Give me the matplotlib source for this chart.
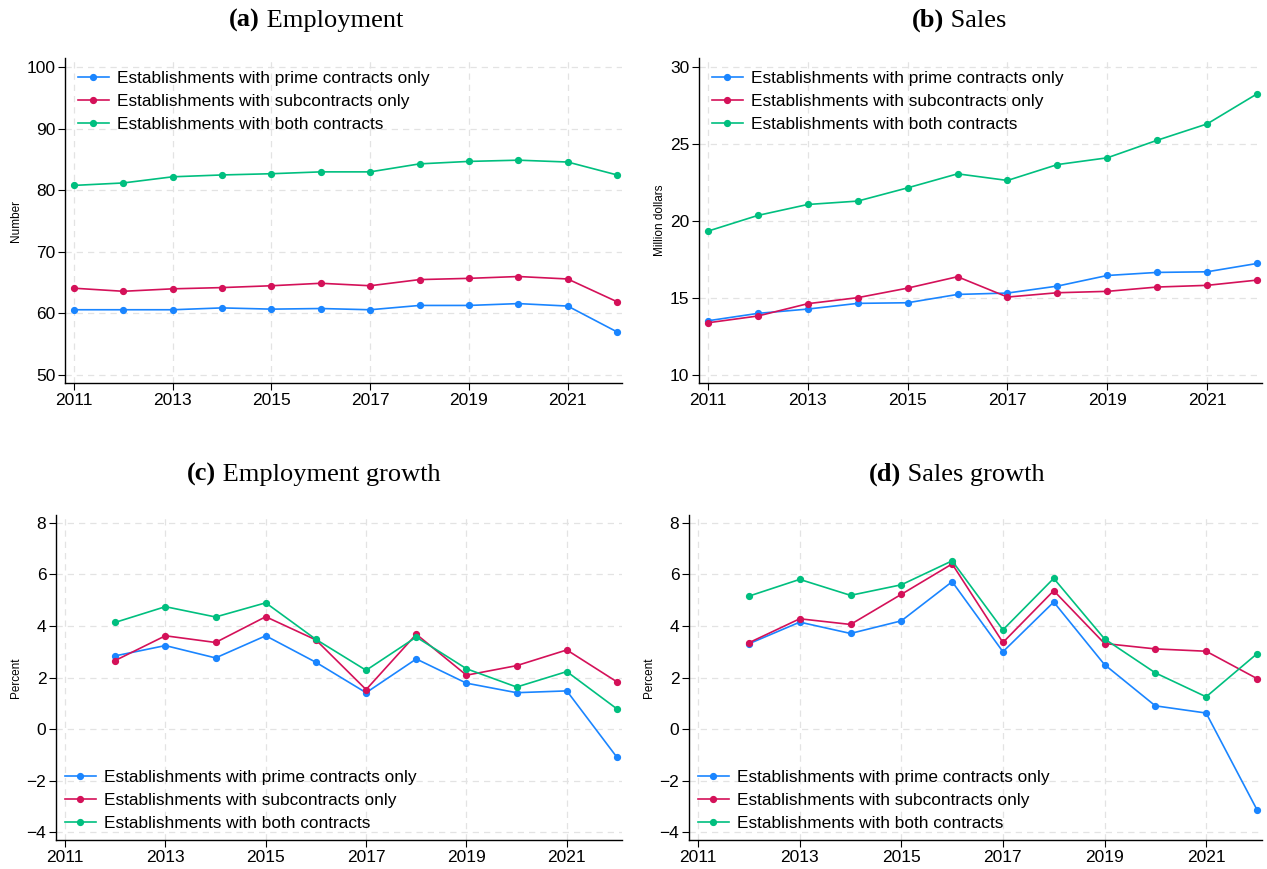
import matplotlib
matplotlib.use("Agg")
import matplotlib.pyplot as plt

plt.rcParams['font.family'] = ['Liberation Sans', 'DejaVu Sans']

years = list(range(2011, 2023))
growth_years = years[1:]

series_labels = ["Establishments with prime contracts only",
                 "Establishments with subcontracts only",
                 "Establishments with both contracts"]
colors = ["#1a85ff", "#d41159", "#00bf7f"]

# Employment (number of workers)
emp_prime = [60.6, 60.6, 60.6, 60.9, 60.7, 60.8, 60.6, 61.3, 61.3, 61.6, 61.2, 57.0]
emp_sub = [64.1, 63.6, 64.0, 64.2, 64.5, 64.9, 64.5, 65.5, 65.7, 66.0, 65.6, 61.9]
emp_both = [80.8, 81.2, 82.2, 82.5, 82.7, 83.0, 83.0, 84.3, 84.7, 84.9, 84.6, 82.5]

# Sales (million dollars)
sales_prime = [13.52, 14.00, 14.28, 14.65, 14.69, 15.23, 15.32, 15.77, 16.46, 16.66, 16.70, 17.24]
sales_sub = [13.39, 13.83, 14.63, 15.02, 15.64, 16.38, 15.06, 15.34, 15.43, 15.71, 15.82, 16.16]
sales_both = [19.34, 20.36, 21.07, 21.29, 22.15, 23.06, 22.63, 23.66, 24.10, 25.24, 26.30, 28.25]

# Employment growth (percent)
empg_prime = [2.84, 3.24, 2.76, 3.62, 2.59, 1.41, 2.72, 1.78, 1.41, 1.48, -1.10]
empg_sub = [2.66, 3.62, 3.36, 4.36, 3.46, 1.53, 3.68, 2.09, 2.46, 3.07, 1.83]
empg_both = [4.14, 4.75, 4.35, 4.90, 3.48, 2.28, 3.57, 2.34, 1.63, 2.23, 0.78]

# Sales growth (percent)
salesg_prime = [3.31, 4.15, 3.71, 4.20, 5.72, 3.00, 4.93, 2.50, 0.90, 0.62, -3.13]
salesg_sub = [3.35, 4.28, 4.06, 5.23, 6.41, 3.36, 5.37, 3.32, 3.11, 3.02, 1.96]
salesg_both = [5.16, 5.81, 5.19, 5.60, 6.53, 3.85, 5.85, 3.50, 2.18, 1.25, 2.92]

W, H = 1267, 869
fig = plt.figure(figsize=(W / 100, H / 100), dpi=100)


def px_axes(left, right, top, bottom):
    return fig.add_axes([left / W, 1 - bottom / H, (right - left) / W, (bottom - top) / H])


panels = [
    dict(box=(65, 622, 58, 383), x=years, data=[emp_prime, emp_sub, emp_both],
         ylim=(48.7, 101.5), yticks=[50, 60, 70, 80, 90, 100], ylabel="Number",
         title=("(a)", " Employment"), tpos=(320, 27), legend="upper left"),
    dict(box=(699, 1262, 58, 383), x=years, data=[sales_prime, sales_sub, sales_both],
         ylim=(9.48, 30.58), yticks=[10, 15, 20, 25, 30], ylabel="Million dollars",
         title=("(b)", " Sales"), tpos=(960, 27), legend="upper left"),
    dict(box=(56, 622, 515, 840), x=growth_years, data=[empg_prime, empg_sub, empg_both],
         ylim=(-4.31, 8.31), yticks=[-4, -2, 0, 2, 4, 6, 8], ylabel="Percent",
         title=("(c)", " Employment growth"), tpos=(320, 481), legend="lower left"),
    dict(box=(689, 1262, 515, 840), x=growth_years, data=[salesg_prime, salesg_sub, salesg_both],
         ylim=(-4.31, 8.31), yticks=[-4, -2, 0, 2, 4, 6, 8], ylabel="Percent",
         title=("(d)", " Sales growth"), tpos=(960, 481), legend="lower left"),
]

for p in panels:
    ax = px_axes(*p["box"])
    l, r, t, b = p["box"]
    aw, ah = r - l, b - t
    for vals, c, lab in zip(p["data"], colors, series_labels):
        ax.plot(p["x"], vals, color=c, lw=1.2, marker="o", ms=4.2, label=lab)
    ax.set_xlim(2010.82, 2022.1)
    ax.set_ylim(*p["ylim"])
    ax.set_xticks([2011, 2013, 2015, 2017, 2019, 2021])
    ax.set_yticks(p["yticks"])
    ax.tick_params(labelsize=12.5, length=5, width=0.8, color="black", pad=2)
    ax.grid(True, color="#e3e3e3", lw=0.9, ls=(0, (5, 4)))
    ax.set_axisbelow(True)
    for s in ("top", "right"):
        ax.spines[s].set_visible(False)
    for s in ("left", "bottom"):
        ax.spines[s].set_linewidth(1.0)
    ax.set_ylabel(p["ylabel"], fontsize=8.5, labelpad=3)
    if p["legend"] == "upper left":
        anchor = (6 / aw, 1 - 6 / ah)
    else:
        anchor = (2 / aw, 2 / ah)
    ax.legend(loc=p["legend"], bbox_to_anchor=anchor, frameon=False, fontsize=12.4,
              handlelength=1.8, handletextpad=0.47, labelspacing=0.47, borderaxespad=0)

    tx, ty = p["tpos"]
    bold, rest = p["title"]
    t1 = fig.text(tx / W, 1 - ty / H, bold + rest, fontsize=19, va="baseline", ha="center",
                  family="Liberation Serif", weight="bold", alpha=0)
    fig.canvas.draw()
    bb = t1.get_window_extent()
    tb = fig.text(bb.x0 / W, 1 - ty / H, bold, fontsize=19, va="baseline", ha="left",
                  family="Liberation Serif", weight="bold")
    bb2 = tb.get_window_extent()
    fig.text(bb2.x1 / W, 1 - ty / H, rest, fontsize=19, va="baseline", ha="left",
             family="Liberation Serif")

fig.savefig("out.png", dpi=100)
